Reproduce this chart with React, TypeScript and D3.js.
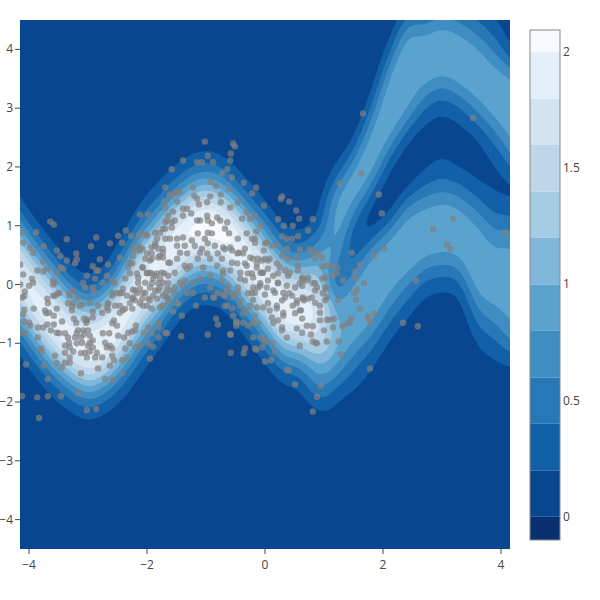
import React from "react";
import * as d3 from "d3";

const W = 600, H = 600;
const M = { l: 20, r: 510, t: 20, b: 549 };

const levels = [0.2, 0.4, 0.6, 0.8, 1.0, 1.2, 1.4, 1.6, 1.8, 2.0];
const bandColors = ["#08478f", "#1160a8", "#2878b8", "#3f8dc3", "#5ba3cf", "#7fb6da", "#a3cce2", "#bfd5ea", "#d2e3f2", "#e4eff9", "#f7fbff"];
const lowestBandColor = "#083070";
const colorbarTicks = [0, 0.5, 1, 1.5, 2];
const xTicks = [-4, -2, 0, 2, 4];
const yTicks = [-4, -3, -2, -1, 0, 1, 2, 3, 4];

const gridX = [-4.5, -4.2, -3.9, -3.6, -3.3, -3, -2.7, -2.4, -2.1, -1.8, -1.5, -1.2, -0.9, -0.6, -0.3, 0, 0.3, 0.6, 0.9, 1.2, 1.5, 1.8, 2.1, 2.4, 2.7, 3, 3.3, 3.6, 3.9, 4.2, 4.5];
const gridYTop = 5, gridYStep = 0.25;

// Where the crest of each ridge sits in each column of gridX.
const lowerRidge = [0.72, 0.21, -0.22, -0.6, -0.92, -1.1, -0.95, -0.55, -0.05, 0.32, 0.7, 0.95, 0.98, 0.8, 0.42, 0.05, -0.38, -0.45, -0.5, -0.85, -0.47, -0.09, 0.31, 0.68, 0.88, 0.97, 0.89, 0.4, 0.12, -0.03, -0.2];
const upperRidge = [null, null, null, null, null, null, null, null, null, null, null, null, null, null, null, null, null, null, 1.0, 1.15, 1.7, 2.27, 3.04, 3.62, 3.84, 3.98, 3.88, 3.55, 3.2, 2.9, 2.5];

// density × 100, per column of gridX, rows y = 5 … -3 in steps of 0.25
const densityColumns = [
  [0,0,0,0,0,0,0,0, 0,1,4,10,24,49,85,125, 162,180,172,142,100,62,32,15, 6,2,0,0,0,0,0,0,0],
  [0,0,0,0,0,0,0,0, 0,0,0,1,3,9,21,45, 83,127,166,185,175,141,95,56, 28,12,4,1,0,0,0,0,0],
  [0,0,0,0,0,0,0,0, 0,0,0,0,0,1,4,11, 27,56,97,142,179,190,172,132, 86,48,23,9,3,1,0,0,0],
  [0,0,0,0,0,0,0,0, 0,0,0,0,0,0,0,2, 6,17,39,74,121,165,192,189, 157,110,65,33,14,5,2,0,0],
  [0,0,0,0,0,0,0,0, 0,0,0,0,0,0,0,0, 1,3,10,25,55,100,151,187, 193,165,118,70,35,14,5,1,0],
  [0,0,0,0,0,0,0,0, 0,0,0,0,0,0,0,0, 0,1,4,12,31,66,115,166, 197,193,157,104,57,26,10,3,1],
  [0,0,0,0,0,0,0,0, 0,0,0,0,0,0,0,0, 1,3,9,23,52,96,147,189, 200,174,127,77,39,16,6,2,0],
  [0,0,0,0,0,0,0,0, 0,0,0,0,0,0,1,4, 11,24,50,88,132,172,193,187, 154,108,65,34,15,6,2,0,0],
  [0,0,0,0,0,0,0,0, 0,0,0,0,2,6,14,31, 58,95,137,173,190,182,153,112, 71,40,20,8,3,1,0,0,0],
  [0,0,0,0,0,0,0,0, 0,0,1,3,8,19,39,72, 115,158,188,194,174,135,90,53, 26,11,4,1,0,0,0,0,0],
  [0,0,0,0,0,0,0,0, 0,0,3,9,22,48,87,135, 178,200,190,153,106,62,30,13, 5,1,0,0,0,0,0,0,0],
  [0,0,0,0,0,0,0,0, 0,2,7,19,44,85,134,180, 205,194,155,103,59,28,11,4, 1,0,0,0,0,0,0,0,0],
  [0,0,0,0,0,0,0,0, 0,3,9,22,50,93,144,190, 212,197,153,100,56,26,10,3, 1,0,0,0,0,0,0,0,0],
  [0,0,0,0,0,0,0,0, 0,1,4,11,28,59,103,155, 194,207,180,134,85,44,19,7, 2,0,0,0,0,0,0,0,0],
  [0,0,0,0,0,0,0,0, 0,0,0,3,8,20,44,81, 129,173,198,193,159,111,67,34, 15,5,1,0,0,0,0,0,0],
  [0,0,0,0,0,0,0,0, 0,0,0,0,2,6,15,33, 65,108,152,186,195,175,135,89, 51,25,10,4,1,0,0,0,0],
  [0,0,0,0,0,0,0,0, 0,0,0,0,0,0,2,6, 20,40,73,119,166,196,196,167, 121,75,39,17,7,2,0,0,0],
  [0,0,0,0,0,0,0,0, 0,0,0,0,0,0,1,4, 13,30,60,103,149,185,195,174, 131,85,47,21,9,3,1,0,0],
  [0,0,0,0,0,0,0,0, 0,0,0,0,0,1,4,12, 27,55,85,116,148,170,180,172, 150,119,90,66,34,13,4,1,0],
  [0,0,0,0,0,0,0,0, 0,1,3,10,22,45,75,90, 95,90,78,58,42,62,88,95, 100,88,70,42,20,8,3,1,0],
  [0,0,0,0,0,0,0,0, 1,3,14,40,74,96,88,64, 36,26,30,52,82,93,97,95, 76,56,37,24,10,3,0,0,0],
  [0,0,0,0,0,2,6,16, 38,68,90,98,92,67,34,12, 13,42,78,91,96,98,92,73, 50,32,18,8,3,1,0,0,0],
  [0,0,3,12,28,60,87,96, 99,94,84,52,24,10,8,13, 46,82,92,98,90,72,51,33, 17,7,3,1,0,0,0,0,0],
  [10,25,52,83,95,98,97,92, 84,56,26,11,8,11,36,70, 88,96,98,85,62,42,25,12, 5,1,0,0,0,0,0,0,0],
  [12,26,48,78,94,99,87,64, 39,20,11,10,18,35,59,83, 98,98,82,58,34,17,7,2, 1,0,0,0,0,0,0,0,0],
  [22,42,68,90,99,93,72,46, 25,13,9,18,29,46,70,90, 99,93,74,49,27,13,5,2, 0,0,0,0,0,0,0,0,0],
  [18,34,56,80,94,99,87,63, 38,20,10,10,19,37,60,84, 98,97,80,55,31,15,6,2, 0,0,0,0,0,0,0,0,0],
  [13,24,40,60,82,96,99,87, 65,42,21,12,12,21,38,60, 80,90,95,98,91,76,57,39, 23,13,6,3,1,0,0,0,0],
  [6,12,22,37,55,75,90,98, 93,73,49,31,19,17,22,35, 52,70,85,94,94,86,70,52, 35,22,12,6,3,1,0,0,0],
  [0,0,4,10,19,45,81,93, 97,95,87,68,43,22,17,35, 55,74,88,94,95,92,87,79, 61,33,15,7,3,1,0,0,0],
  [0,0,0,0,6,15,32,60, 80,92,95,88,70,45,25,18, 28,48,68,84,92,93,85,70, 50,30,15,6,2,0,0,0,0],
];

const scatterPoints: [number, number][] = [
  [-1.39,2.11],[-1.58,1.96],[-1.69,1.65],[-1.61,1.51],[-1.49,1.57],[-1.49,1.41],[-1.71,1.41],[-1.56,1.24],[-1.69,1.31],[-2.12,1.19],[-1.98,1.19],
  [-3.64,1.07],[-3.58,1.02],[-3.36,.77],[-2.86,.80],[-2.95,.65],[-2.63,.70],[-2.49,.83],[-2.36,.92],[-2.27,.83],[-2.42,.71],[-2.14,.83],[-2.02,.85],
  [-4.12,.89],[-3.88,.89],[-4.10,.71],[-3.75,.65],[-3.98,.63],[-3.93,.54],[-3.53,.58],[-3.47,.48],[-3.36,.41],[-3.20,.53],[-3.19,.43],[-3.22,.36],[-2.80,.43],[-2.66,.34],[-2.46,.46],[-2.92,.31],[-2.86,.24],[-2.83,.24],[-3.02,.15],[-2.88,.10],[-3.46,.29],[-3.42,.27],[-3.76,.39],[-3.69,.27],[-3.76,.22],[-3.86,.24],[-4.15,.34],[-4.10,.17],[-3.95,.10],[-3.93,.03],[-4.0,-.02],[-4.15,0],[-4.07,-.12],[-4.08,-.2],[-3.59,.07],[-3.56,.03],[-3.59,0],[-3.53,.2],
  [-3.05,-.05],[-2.92,-.05],[-2.90,-.12],[-3.08,.03],[-2.68,.15],[-2.75,.03],[-2.58,.07],[-2.54,.02],[-2.37,.10],[-2.29,.19],[-2.25,.36],[-2.32,.29],[-2.17,.19],[-2.08,.29],[-2.0,.19],[-2.15,.03],[-2.03,.03],[-1.92,.19],[-1.83,.19],[-1.78,.10],[-1.90,.10],[-1.92,.02],[-1.81,.02],[-1.73,.03],[-1.64,.02],[-1.71,.19],
  [-1.86,.66],[-1.81,.61],[-1.73,.61],[-1.83,.78],[-1.86,.88],[-1.78,.88],[-1.69,.95],[-1.66,1.09],[-1.78,.49],[-1.92,.53],[-2.03,.44],[-1.95,.41],[-2.12,.58],[-2.24,.61],[-2.14,.66],[-1.81,.46],[-1.73,.46],[-1.64,.37],[-2.29,.37],
  [-2.46,-.15],[-2.58,-.15],[-2.34,-.19],[-2.25,-.24],[-2.17,-.15],[-2.07,-.15],[-1.98,-.24],[-1.90,-.19],[-1.81,-.10],[-1.73,-.19],[-1.66,-.07],[-2.12,-.07],[-2.24,-.09],[-2.41,-.07],[-2.66,-.32],[-2.54,-.36],[-2.68,-.39],[-2.83,-.36],[-2.92,-.46],[-3.14,-.36],[-3.25,-.32],[-3.27,-.37],[-3.31,-.19],[-3.27,-.10],[-3.17,-.22],[-3.56,-.19],[-3.49,-.15],[-3.69,-.24],[-3.68,-.32],[-3.73,-.44],[-3.92,-.41],[-4.12,-.22],[-3.53,-.41],[-3.27,-.44],[-3.10,-.34],[-2.97,-.31],[-2.46,-.36],[-2.41,-.44],[-2.29,-.32],[-2.20,-.27],[-2.12,-.32],[-2.0,-.36],[-1.92,-.41],[-1.83,-.24],[-1.73,-.36],[-1.64,-.24],
  [-3.71,-.49],[-3.66,-.48],[-3.58,-.53],[-3.44,-.63],[-4.08,-.43],[-4.10,-.51],[-4.08,-.63],[-4.0,-.65],[-3.98,-.70],[-4.15,-.82],[-4.07,-.82],[-3.85,-.73],[-3.76,-.73],[-3.69,-.68],[-3.63,-.78],[-3.58,-.68],[-3.53,-.82],[-3.49,-.83],[-3.39,-.83],[-3.85,-.90],[-3.34,-.90],[-3.32,-.99],[-3.39,-1.04],[-3.24,-.58],[-3.20,-.65],[-3.07,-.58],[-3.03,-.65],[-3.02,-.60],[-3.17,-.78],[-3.19,-.83],[-3.08,-.78],[-3.0,-.78],[-2.97,-.87],[-3.07,-.85],[-3.22,-.90],[-3.12,-.90],[-3.19,-1.0],[-3.31,-1.07],[-3.25,-1.14],[-3.10,-.99],[-2.97,-.99],[-2.92,-.95],[-3.0,-1.04],[-2.92,-1.07],[-3.12,-1.17],[-3.05,-1.16],[-2.97,-1.14],[-3.02,-1.24],[-2.88,-1.24],[-2.85,-1.16],[-2.76,-1.24],[-2.71,-.99],[-2.68,-1.07],[-2.63,-1.04],[-2.59,-1.09],[-2.75,-.83],[-2.64,-.83],[-2.49,-.87],[-2.39,-.90],[-2.32,-.82],[-2.25,-.80],[-2.19,-.70],[-2.20,-.78],[-2.37,-1.09],[-2.29,-1.0],[-2.19,-1.07],[-2.12,-1.04],[-2.05,-.82],[-1.98,-1.0],[-1.90,-1.06],[-1.92,-.83],[-1.98,-.73],[-1.80,-.90],[-1.80,-.65],[-1.81,-.73],[-1.69,-.82],[-1.66,-.83],[-1.42,-.88],[-1.95,-1.26],[-2.34,-1.24],[-2.42,-1.29],[-2.56,-1.29],[-2.59,-1.21],[-2.63,-1.38],[-2.42,-1.51],[-2.83,-1.43],[-3.12,-1.51],[-3.31,-1.33],[-3.39,-1.33],[-3.44,-1.41],[-3.53,-1.34],[-3.56,-1.21],[-3.31,-1.24],[-3.39,-1.16],[-3.75,-1.38],[-4.05,-1.36],[-3.80,-1.09],[-3.78,-1.14],[-3.68,-1.61],[-3.17,-1.85],[-2.71,-1.61],[-2.58,-1.63],[-4.12,-1.90],[-3.86,-1.92],[-3.68,-1.90],[-3.46,-1.90],[-3.02,-2.14],[-2.86,-2.12],[-3.83,-2.27],[-1.56,-.46],[-1.41,-.53],[-1.64,-.31],[-1.47,-.32],[-1.53,-.15],[-1.66,-.22],[-1.78,-.39],[-2.07,-.36],[-2.25,-.41],[-2.37,-.41],[-2.46,-.48],[-2.56,-.61],[-2.51,-.70],[-2.59,-.66],[-2.92,-.56],[-3.02,-.61],[-3.34,-.32],[-3.32,-.15],[-3.51,-.15],[-3.59,-.19],[-2.76,-.48],[-2.66,-.44],[-2.66,-.34],[-2.59,-.19],[-2.51,-.15],[-2.42,-.14],[-2.24,-.22],[-2.08,-.24],[-1.95,-.27],
  [-1.61,1.53],[-1.44,1.57],[-1.20,1.51],[-.93,1.50],[-.98,1.40],[-1.12,1.36],[-.75,1.53],[-.75,1.40],[-.59,1.31],[-.46,1.40],[-.22,1.55],[-.02,1.34],[.22,1.11],[-1.39,1.29],[-1.32,1.29],[-1.39,1.17],[-1.25,1.21],[-1.64,1.17],[-1.69,1.06],[-1.53,1.09],[-1.58,1.06],[-1.15,1.09],[-1.10,1.09],[-.98,1.17],[-.97,1.09],[-.90,1.04],[-.81,1.14],[-.76,1.09],[-.64,1.06],[-.39,1.12],[-.31,1.23],[-.25,1.12],[-.17,1.17],[-.08,1.0],[-.68,.95],[-.61,.87],[-.46,.78],[-.31,.87],[-.17,.78],[-.17,.71],[.03,.71],[.12,.66],[-.02,.58],[-.34,.61],[-.44,.54],[-.56,.58],[-.68,.60],[-.85,.66],[-.90,.87],[-.97,.88],[-1.02,.78],[-1.14,.87],[-1.24,.75],[-1.39,.80],[-1.49,.78],[-1.58,.97],[-1.73,.95],[-1.69,.78],[-1.61,.78],[-1.49,.66],[-1.36,.66],[-1.19,.66],[-1.07,.61],[-.97,.70],[-1.44,.54],[-1.32,.53],[-1.10,.54],[-.98,.53],[-1.61,.37],[-1.49,.44],[-1.36,.32],[-1.27,.31],[-1.32,.27],[-1.14,.44],[-1.05,.29],[-.93,.44],[-.80,.53],[-.73,.44],[-.56,.37],[-.47,.36],[-.31,.32],[-.20,.44],[-.14,.29],[.05,.41],[-.05,.20],[.05,.27],[.20,.36],[.22,.19],[-.20,.12],[-.29,.19],[-.42,.20],[-.59,.24],[-.71,.19],[-.81,.32],[-.93,.15],[-1.10,.10],[-1.22,.03],[-1.36,.07],[-1.53,.20],[-1.64,.15],[-1.75,.20],[-1.86,.15],[-1.95,.20],[-2.07,.29],[-2.0,.20],[-2.15,.12],[-2.24,.49],[-2.17,.58],[-2.08,.61],[-2.0,.53],[-1.92,.44],[-1.92,.63],[-1.73,.54],[-2.12,.87],[-2.0,.83],[-1.86,.70],
  [-2.20,-.10],[-2.03,-.14],[-1.95,-.05],[-1.86,-.10],[-1.78,-.05],[-1.69,-.15],[-1.61,-.10],[-1.53,-.05],[-1.44,.03],[-1.39,-.02],[-1.32,-.14],[-1.22,-.14],[-1.49,-.32],[-1.17,-.36],[-1.02,-.22],[-.88,-.22],[-.93,-.05],[-.80,-.14],[-.68,-.19],[-.64,-.36],[-.54,-.22],[-.73,.07],[-.63,-.02],[-.46,-.05],[-.34,.07],[-.22,-.14],[-.12,-.05],[0,-.17],[.14,-.10],[.22,.03],[.05,-.32],[.20,-.36],[-.25,-.36],[-.42,-.27],
  [-1.02,2.43],[-.54,2.40],[-.51,2.35],[-.58,2.23],[-.97,2.19],[-1.15,2.08],[-1.07,2.08],[-.88,2.08],[-.59,2.11],[-.64,1.96],[-.73,1.89],[-.56,1.82],[-.36,1.73],[-.15,1.65],[-.92,1.75],[-.83,1.68],[-.61,1.63],[-1.22,1.65],[-1.54,1.55],[-1.15,1.46],[.27,1.46],[.29,1.50],[.41,1.41],[.53,1.26],[.58,1.12],[.81,1.11],[.32,1.0],[.47,1.0],[.73,.92],[.29,.82],[.37,.78],[.46,.78],[.56,.82],[-.15,.90],[-.22,.78],[0,.70],[.20,.66],[.59,.60],[.75,.60],[.80,.54],[.37,.61],[.54,.46],[.39,.44],[.29,.49],[.85,.44],[.90,.53],[.97,.46],[1.05,.32],[.97,.31],[1.15,.32],[1.22,.29],[1.15,.15],[1.22,.19],[1.32,.07],[.97,.10],[1.02,.12],[.73,.12],[.64,.10],[.56,.24],[.42,.20],[.34,.24],[-.08,.20],[-.22,.19],[-.34,.36],[-.14,.36],[.08,.44],[0,.44],[-.12,.44],[-.25,.46],[-.37,.53],[-.47,.53],[-.59,.63],[-.71,.63],[.88,-.05],[.81,.02],[.71,.07],[.63,-.02],[.51,-.05],[.37,-.02],[.22,.02],[.03,-.05],[-.08,-.02],[-.20,-.05],[.34,-.22],[.54,-.27],[.64,-.22],[.80,-.22],[.85,-.31],[.98,-.15],[1.02,-.05],
  [-.05,.41],[.25,.29],[.56,.32],[.63,.12],[-.03,.20],[.14,.15],[.39,.15],[.05,.07],[-.08,.02],[.59,.02],[.64,.07],[.85,.02],[-.71,.24],[-.42,.10],[-.64,-.10],[-.54,-.15],[-.46,-.14],[-.29,-.15],[-.17,-.14],[.17,-.14],[.31,-.14],[.46,-.19],[.64,-.24],[.73,-.24],[.85,-.10],[1.05,-.07],[1.24,-.26],[1.02,-.27],[.93,-.36],[.93,-.48],[.93,-.61],[.81,-.71],[1.0,-.78],[1.15,-.73],[.59,-.44],[.63,-.58],[.71,-.70],[.54,-.75],[.63,-.82],[.78,-.85],[.37,-.90],[.29,-.73],[.29,-.78],[.22,-.61],[.14,-.65],[.12,-.56],[.31,-.53],[.20,-.41],[.08,-.44],[-.03,-.39],[-.14,-.39],[.29,-.27],[.47,-.36],[.54,-.32],[-.20,-.26],[-.42,-.36],[-.37,-.49],[-.56,-.41],[-.54,-.53],[-.68,-.36],[-.47,-.65],[-.37,-.65],[-.49,-.70],[-.29,-.70],[-.20,-.90],[-.59,-.85],[-.08,-.90],[0,-.97],[.12,-.99],[.59,-1.04],[.81,-.97],[.88,-1.0],[1.05,-.97],[1.25,-.97],[-.34,-1.09],[-.17,-1.09],[-.05,-1.07],
  [-.97,-.85],[-.58,-.85],[-.83,-.58],[-.80,-.68],[-.49,-.63],[-.58,-1.16],[-.36,-1.17],[-.15,-1.11],[-.02,-.94],[.17,-1.14],[0,-1.31],[.10,-1.29],[.37,-1.46],[.41,-1.46],[.51,-1.70],[.95,-1.72],[.88,-1.91],[.81,-2.16],[1.29,-1.19],[.86,-.99],[1.31,-.71],[1.39,-.66],[1.17,-.58],[1.10,-.60],[1.05,-.60],[1.05,-.22],[.66,-.27],[.61,-.44],[.51,-.49],[.31,-.48],[-.17,-.53],[-.20,-.66],[-.12,-.66],[-.31,-.44],[-.86,-.22],[-.71,-.17],[.41,-.15],
  [1.93,1.53],[1.98,1.21],[3.19,1.12],[2.85,.94],[4.08,.89],[3.08,.68],[3.14,.60],[2.02,.61],[1.85,.49],[1.47,.54],[1.61,.34],[1.53,.22],[1.53,.10],[2.56,.07],[1.68,.02],[1.56,-.09],[1.51,-.14],[1.54,-.26],[1.61,-.41],[1.85,-.49],[1.76,-.58],[1.75,-.54],[1.80,-.66],[1.46,-.58],[1.44,-.65],[2.34,-.65],[2.59,-.71],[1.78,-1.43],[1.66,2.91],[3.53,2.83],[1.63,1.89],[1.27,1.72],
];

const font = '"Open Sans", sans-serif';
const tickColor = "#444";
const fmtMinus = (v: number) => (v < 0 ? "\u2212" + Math.abs(v) : String(v));
const upsample = 6;

function cubic(a: number, b: number, c: number, d: number, t: number) {
  return 0.5 * (2 * b + (c - a) * t + (2 * a - 5 * b + 4 * c - d) * t * t + (3 * b - a - 3 * c + d) * t * t * t);
}
// Value of one read-off column at height y (cubic along the column).
function columnAt(col: number[], y: number) {
  const r = (gridYTop - y) / gridYStep;
  const n = col.length;
  if (r <= 0) return col[0];
  if (r >= n - 1) return col[n - 1];
  const j = Math.floor(r), t = r - j;
  const at = (k: number) => col[Math.max(0, Math.min(n - 1, k))];
  return cubic(at(j - 1), at(j), at(j + 1), at(j + 2), t);
}
// Between two columns, slide them along the ridge that passes through y, so the crests stay continuous.
function resample(k: number) {
  const nx = gridX.length;
  const mx = (nx - 1) * k + 1;
  const ny = densityColumns[0].length;
  const my = (ny - 1) * k + 1;
  const data = new Float64Array(mx * my);
  for (let v = 0; v < my; v++) {
    const y = gridYTop - (v / k) * gridYStep;
    for (let u = 0; u < mx; u++) {
      const pos = u / k;
      const i = Math.min(nx - 2, Math.floor(pos)), t = pos - i;
      const dL = lowerRidge[i + 1] - lowerRidge[i];
      let shift = dL;
      const u0 = upperRidge[i], u1 = upperRidge[i + 1];
      if (u0 != null && u1 != null) {
        const cL = lowerRidge[i] + t * dL;
        const cU = u0 + t * (u1 - u0);
        const w = Math.max(0, Math.min(1, (y - (cL + cU) / 2) / 0.6 + 0.5));
        shift = dL * (1 - w) + (u1 - u0) * w;
      }
      const a = columnAt(densityColumns[i], y - t * shift);
      const b = columnAt(densityColumns[i + 1], y + (1 - t) * shift);
      data[u + v * mx] = Math.max(0, (1 - t) * a + t * b) / 100;
    }
  }
  return { data, width: mx, height: my };
}

export default function App() {
  const xScale = d3.scaleLinear().domain([-4.153, 4.153]).range([M.l, M.r]);
  const yScale = d3.scaleLinear().domain([-4.5, 4.5]).range([M.b, M.t]);
  const cbScale = d3.scaleLinear().domain([-0.1, 2.095]).range([540, 30]);

  const gridYBottom = gridYTop - (densityColumns[0].length - 1) * gridYStep;
  const grid = resample(upsample);
  d3.blur2(grid, 1.5);
  const gx = d3.scaleLinear().domain([0.5, grid.width - 0.5]).range([gridX[0], gridX[gridX.length - 1]]);
  const gy = d3.scaleLinear().domain([0.5, grid.height - 0.5]).range([gridYTop, gridYBottom]);
  const contours = d3.contours().size([grid.width, grid.height]).thresholds(levels)(Array.from(grid.data));
  const ringLine = d3.line<number[]>()
    .x((p) => xScale(gx(p[0])))
    .y((p) => yScale(gy(p[1])));
  const contourPaths = contours.map((c) =>
    c.coordinates.map((poly) => poly.map((ring) => ringLine(ring as number[][]) + "Z").join("")).join("")
  );

  const cbEdges = [-0.1, 0, ...levels, 2.095];
  const cbColors = [lowestBandColor, ...bandColors];

  return (
    <svg width={W} height={H} style={{ position: "absolute", left: 0, top: 0, background: "#fff" }} fontFamily={font} fontSize={12}>
      <defs>
        <clipPath id="plot"><rect x={M.l} y={M.t} width={M.r - M.l} height={M.b - M.t} /></clipPath>
      </defs>
      <g clipPath="url(#plot)">
        <rect x={M.l} y={M.t} width={M.r - M.l} height={M.b - M.t} fill={bandColors[0]} />
        {contourPaths.map((d, i) => (
          <path key={i} d={d} fill={bandColors[i + 1]} fillRule="evenodd" />
        ))}
      </g>
      <g clipPath="url(#plot)">
        {scatterPoints.map((p, i) => (
          <circle key={i} cx={xScale(p[0])} cy={yScale(p[1])} r={3.2} fill="rgb(128,128,128)" fillOpacity={0.7} />
        ))}
      </g>
      {xTicks.map((t) => (
        <g key={t}>
          <line x1={xScale(t)} x2={xScale(t)} y1={M.b} y2={M.b + 5} stroke={tickColor} />
          <text x={xScale(t)} y={569} textAnchor="middle" fill={tickColor}>{fmtMinus(t)}</text>
        </g>
      ))}
      {yTicks.map((t) => (
        <g key={t}>
          <line x1={M.l - 5} x2={M.l} y1={yScale(t)} y2={yScale(t)} stroke={tickColor} />
          <text x={13} y={yScale(t) + 4} textAnchor="end" fill={tickColor}>{fmtMinus(t)}</text>
        </g>
      ))}
      {cbColors.map((c, i) => (
        <rect key={i} x={530} width={30} y={cbScale(cbEdges[i + 1])} height={cbScale(cbEdges[i]) - cbScale(cbEdges[i + 1])} fill={c} />
      ))}
      <rect x={530} y={30} width={30} height={510} fill="none" stroke="#888" strokeWidth={1} />
      {colorbarTicks.map((t) => (
        <text key={t} x={563} y={cbScale(t) + 4} fill={tickColor}>{t}</text>
      ))}
    </svg>
  );
}
